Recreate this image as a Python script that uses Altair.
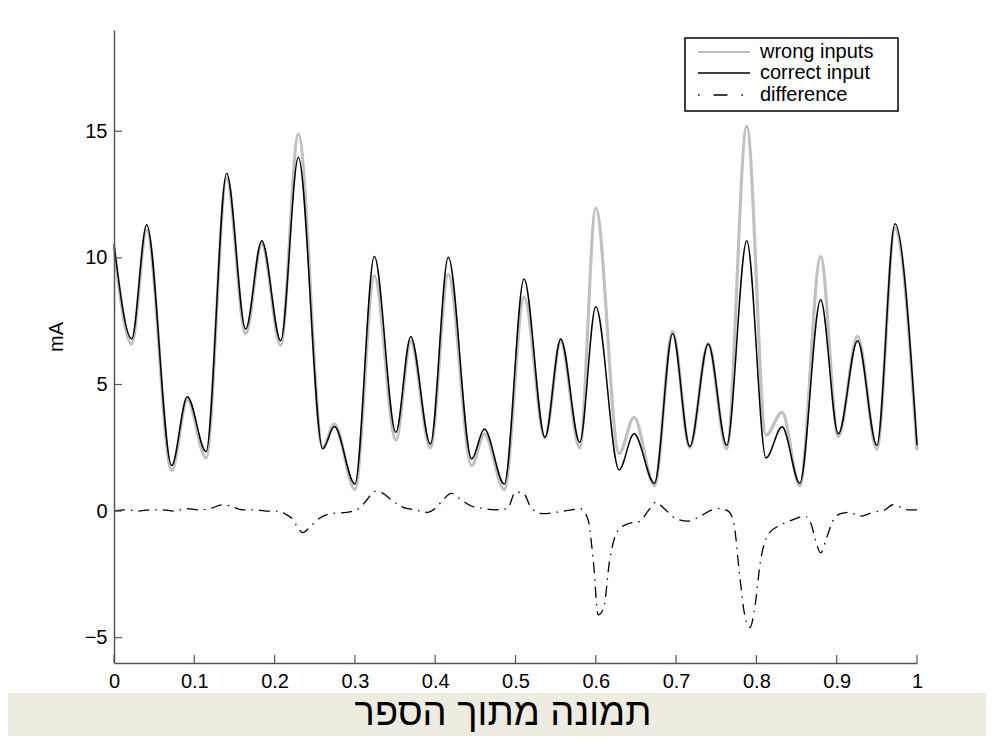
import altair as alt
import pandas as pd

# ---- data ----
peak_x = [0.0, 0.022, 0.0407, 0.0718, 0.0913, 0.1146, 0.1403, 0.164, 0.184, 0.2076,
          0.2296, 0.2599, 0.2744, 0.300, 0.3242, 0.351, 0.3695, 0.394, 0.4163, 0.4454,
          0.4612, 0.486, 0.5106, 0.5367, 0.5563, 0.580, 0.600, 0.629, 0.6476, 0.673,
          0.6957, 0.717, 0.740, 0.763, 0.788, 0.812, 0.832, 0.854, 0.880, 0.902,
          0.926, 0.950, 0.9726, 1.0]
correct_y = [10.55, 6.8, 11.31, 1.8, 4.52, 2.35, 13.34, 7.19, 10.68, 6.73,
             13.97, 2.46, 3.34, 1.07, 10.05, 3.11, 6.89, 2.65, 10.02, 2.06,
             3.24, 1.07, 9.17, 2.91, 6.80, 2.72, 8.07, 1.63, 3.05, 1.10,
             7.0, 2.55, 6.6, 2.6, 10.68, 2.1, 3.33, 1.1, 8.35, 3.05,
             6.73, 2.6, 11.35, 2.6]
wrong_y = [10.4, 6.6, 11.1, 1.6, 4.4, 2.1, 13.15, 7.0, 10.55, 6.55,
           14.89, 2.5, 3.45, 0.85, 9.3, 2.8, 6.7, 2.5, 9.35, 1.8,
           3.05, 0.85, 8.45, 2.9, 6.7, 2.5, 11.97, 2.27, 3.7, 1.0,
           7.1, 2.5, 6.6, 2.45, 15.2, 3.0, 3.9, 1.0, 10.05, 2.95,
           6.9, 2.45, 11.2, 2.4]

diff_x = [0.0, 0.015, 0.03, 0.045, 0.06, 0.075, 0.09, 0.105, 0.12, 0.135,
          0.145, 0.16, 0.175, 0.19, 0.205, 0.215, 0.222, 0.228, 0.235, 0.245,
          0.255, 0.27, 0.29, 0.305, 0.315, 0.325, 0.335, 0.345, 0.36, 0.375,
          0.39, 0.40, 0.41, 0.42, 0.43, 0.445, 0.46, 0.475, 0.49, 0.50,
          0.51, 0.52, 0.535, 0.55, 0.57, 0.58, 0.59, 0.597, 0.603, 0.61,
          0.617, 0.627, 0.64, 0.655, 0.665, 0.675, 0.685, 0.70, 0.715, 0.73,
          0.745, 0.755, 0.765, 0.772, 0.779, 0.786, 0.792, 0.798, 0.805, 0.815,
          0.83, 0.845, 0.86, 0.868, 0.874, 0.88, 0.887, 0.895, 0.905, 0.915,
          0.93, 0.945, 0.96, 0.97, 0.98, 0.99, 1.0]
diff_y = [0.0, 0.05, 0.0, 0.05, 0.05, 0.0, 0.1, 0.05, 0.1, 0.25,
          0.2, 0.05, 0.05, 0.0, 0.0, -0.15, -0.3, -0.6, -0.85, -0.6,
          -0.3, -0.1, -0.05, 0.1, 0.45, 0.78, 0.7, 0.45, 0.15, 0.05,
          -0.05, 0.1, 0.45, 0.7, 0.5, 0.2, 0.1, 0.05, 0.1, 0.75,
          0.7, 0.1, -0.1, -0.05, 0.05, 0.1, -0.3, -2.0, -4.1, -3.8,
          -2.0, -0.8, -0.5, -0.4, 0.0, 0.35, 0.1, -0.3, -0.4, -0.2,
          0.05, 0.1, 0.0, -0.5, -2.5, -4.2, -4.6, -3.8, -2.0, -0.9,
          -0.55, -0.35, -0.2, -0.5, -1.2, -1.65, -1.1, -0.4, -0.1, -0.05,
          -0.2, -0.05, 0.05, 0.25, 0.15, 0.05, 0.05]

x_ticks = [0, 0.1, 0.2, 0.3, 0.4, 0.5, 0.6, 0.7, 0.8, 0.9, 1]
y_ticks = [-5, 0, 5, 10, 15]
legend_labels = ["wrong inputs", "correct input", "difference"]
y_label = "mA"
caption = "תמונה מתוך הספר"

# ---- build ----
W, H = 803, 633
FONT = "Liberation Sans"
AXIS_COLOR = "#555555"
GRAY = "#c0c0c0"

xs = alt.Scale(domain=[0, 1], nice=False, zero=False)
ys = alt.Scale(domain=[-6, 19], nice=False, zero=False)

x_axis = alt.Axis(values=x_ticks, format=".1~f", ticks=False, grid=False, domainColor=AXIS_COLOR,
                  domainWidth=1.5, labelFont=FONT, labelFontSize=20, labelColor="black",
                  labelPadding=8, title=None, zindex=1, labelFlush=False)
y_axis = alt.Axis(values=y_ticks, ticks=False, grid=False, domainColor=AXIS_COLOR,
                  domainWidth=1.5, labelFont=FONT, labelFontSize=20, labelColor="black",
                  labelPadding=7, title=None, zindex=1)

one = pd.DataFrame({"k": [0]})

bg = alt.Chart(one).mark_rect(fill="white").encode(
    x=alt.value(-106), x2=alt.value(W + 69), y=alt.value(-22), y2=alt.value(663))

wrong_df = pd.DataFrame({"x": peak_x, "y": wrong_y})
correct_df = pd.DataFrame({"x": peak_x, "y": correct_y})
diff_df = pd.DataFrame({"x": diff_x, "y": diff_y})

wrong = alt.Chart(wrong_df).mark_line(color=GRAY, strokeWidth=3.2, interpolate="monotone").encode(
    x=alt.X("x:Q", scale=xs, axis=x_axis), y=alt.Y("y:Q", scale=ys, axis=y_axis))
correct = alt.Chart(correct_df).mark_line(color="black", strokeWidth=1.5, interpolate="monotone").encode(
    x=alt.X("x:Q", scale=xs), y=alt.Y("y:Q", scale=ys))
diff = alt.Chart(diff_df).mark_line(color="black", strokeWidth=1.3, interpolate="monotone",
                                    strokeDash=[11, 6, 1.5, 6]).encode(
    x=alt.X("x:Q", scale=xs), y=alt.Y("y:Q", scale=ys))

yt = alt.Chart(pd.DataFrame({"v": y_ticks})).mark_rule(color=AXIS_COLOR, strokeWidth=1.2).encode(
    y=alt.Y("v:Q", scale=ys), x=alt.value(0), x2=alt.value(8))
xt = alt.Chart(pd.DataFrame({"v": x_ticks})).mark_rule(color=AXIS_COLOR, strokeWidth=1.2).encode(
    x=alt.X("v:Q", scale=xs), y=alt.value(H), y2=alt.value(H - 8))

leg_box = alt.Chart(one).mark_rect(fill="white", stroke="black", strokeWidth=1.5).encode(
    x=alt.value(571), x2=alt.value(784), y=alt.value(8), y2=alt.value(81))
leg_rows = [22, 43, 65]
leg_styles = [dict(color=GRAY, strokeWidth=2),
              dict(color="black", strokeWidth=1.6),
              dict(color="black", strokeWidth=1.3, strokeDash=[1.5, 14, 14, 14])]
leg_layers = []
for lab, ry, st in zip(legend_labels, leg_rows, leg_styles):
    leg_layers.append(alt.Chart(one).mark_rule(**st).encode(
        x=alt.value(584), x2=alt.value(636), y=alt.value(ry)))
    leg_layers.append(alt.Chart(one).mark_text(font=FONT, fontSize=20, align="left",
                                               baseline="middle", color="black").encode(
        x=alt.value(646), y=alt.value(ry), text=alt.value(lab)))

ylab = alt.Chart(one).mark_text(font=FONT, fontSize=20, angle=270, align="center",
                                baseline="middle", color="black").encode(
    x=alt.value(-57), y=alt.value(307), text=alt.value(y_label))

cap = alt.Chart(one).mark_text(font=FONT, fontSize=38, align="center",
                               baseline="alphabetic", color="black").encode(
    x=alt.value(389), y=alt.value(695), text=alt.value(caption))

chart = alt.layer(bg, wrong, correct, diff, yt, xt, leg_box, *leg_layers, ylab, cap).properties(
    width=W, height=H, background="#eeece1",
    padding={"left": 106, "top": 22, "right": 69, "bottom": 73},
    autosize=alt.AutoSizeParams(type="none"),
).configure_view(stroke=None)

chart.save("out.html", embed_options={"renderer": "svg", "actions": False})
